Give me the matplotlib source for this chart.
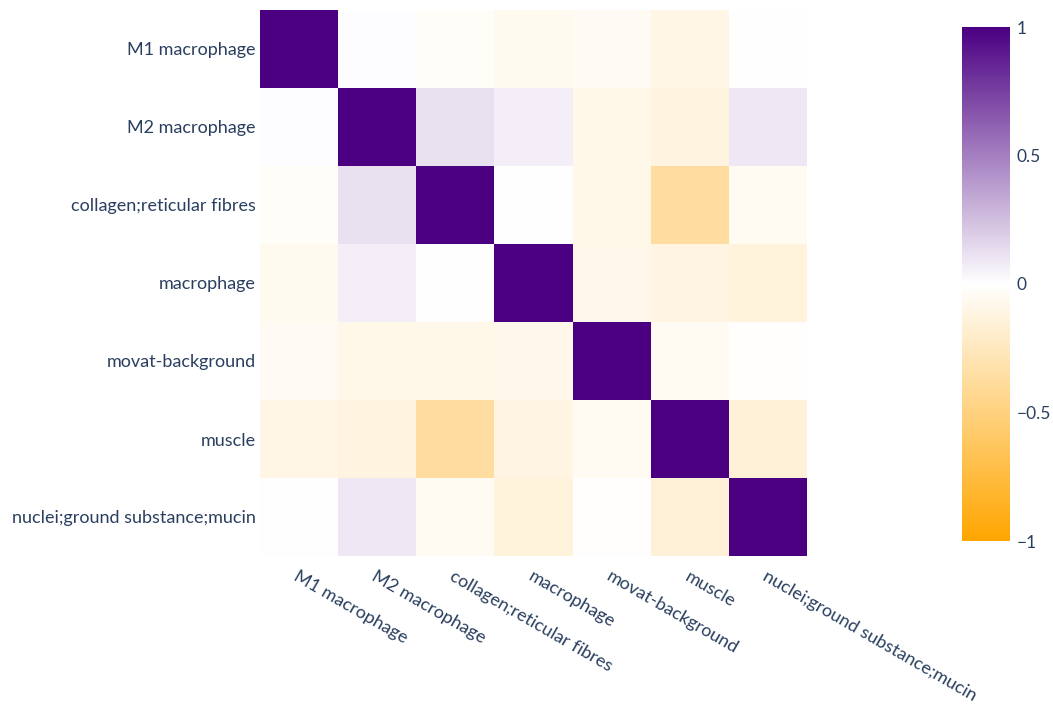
import numpy as np
import matplotlib
matplotlib.use("Agg")
import matplotlib.pyplot as plt
from matplotlib.colors import LinearSegmentedColormap

labels = [
    "M1 macrophage",
    "M2 macrophage",
    "collagen;reticular fibres",
    "macrophage",
    "movat-background",
    "muscle",
    "nuclei;ground substance;mucin",
]

corr = [
    [1.00, 0.01, -0.03, -0.06, -0.04, -0.10, 0.00],
    [0.01, 1.00, 0.12, 0.07, -0.09, -0.12, 0.09],
    [-0.03, 0.12, 1.00, 0.00, -0.09, -0.37, -0.05],
    [-0.06, 0.07, 0.00, 1.00, -0.08, -0.11, -0.14],
    [-0.04, -0.09, -0.09, -0.08, 1.00, -0.05, -0.01],
    [-0.10, -0.12, -0.37, -0.11, -0.05, 1.00, -0.15],
    [0.00, 0.09, -0.05, -0.14, -0.01, -0.15, 1.00],
]

cbar_ticks = [-1, -0.5, 0, 0.5, 1]
cbar_ticklabels = ["\u22121", "\u22120.5", "0", "0.5", "1"]

W, H = 1053, 707
text_color = "#2a3f5f"
plt.rcParams["font.family"] = ["Lato", "DejaVu Sans"]

cmap = LinearSegmentedColormap.from_list("orange_indigo", ["#ffa500", "#ffffff", "#4b0082"])

fig = plt.figure(figsize=(W / 100, H / 100), dpi=100)
ax = fig.add_axes([260 / W, (H - 556) / H, 547 / W, 546 / H])

data = np.array(corr)
n = len(labels)
mesh = ax.pcolormesh(np.arange(n + 1), np.arange(n + 1), data, cmap=cmap,
                     vmin=-1, vmax=1, shading="flat")
ax.set_xlim(0, n)
ax.set_ylim(n, 0)
ax.set_xticks(np.arange(n) + 0.5)
ax.set_yticks(np.arange(n) + 0.5)
ax.set_yticklabels(labels, fontsize=13, color=text_color)
ax.set_xticklabels(labels, fontsize=13, color=text_color, rotation=-30,
                   ha="left", va="top", rotation_mode="anchor")
ax.tick_params(axis="both", length=0)
ax.tick_params(axis="y", pad=3)
ax.tick_params(axis="x", pad=9)
for s in ax.spines.values():
    s.set_visible(False)

cax = fig.add_axes([962 / W, (H - 541) / H, 48 / W, 514 / H])
cb = fig.colorbar(mesh, cax=cax)
cb.outline.set_visible(False)
cb.set_ticks(cbar_ticks)
cb.set_ticklabels(cbar_ticklabels)
cax.tick_params(length=0, labelsize=12.5, labelcolor=text_color, pad=5)

fig.savefig("out.png", dpi=100, facecolor="white")
